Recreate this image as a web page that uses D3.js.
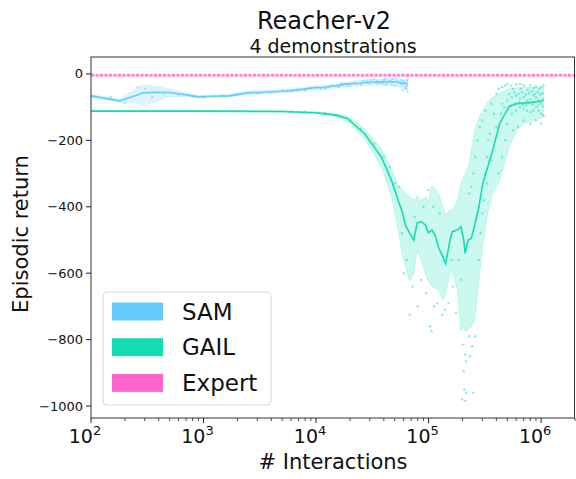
<!DOCTYPE html>
<html>
<head>
<meta charset="utf-8">
<script src="https://cdn.jsdelivr.net/npm/d3@7"></script>
<style>
  body { margin: 0; background: #fff; }
  svg { font-family: 'DejaVu Sans', sans-serif; }
</style>
</head>
<body>
<svg id="chart" width="576" height="479"></svg>
<script>
// --- data ---
const samX = [100, 180, 250, 290, 400, 500, 700, 900, 1200, 1700, 2450, 3500, 5000, 7000, 9300, 12000, 15000, 19000, 24000, 30000, 37000, 45000, 55000, 65000]
const samMean = [-66, -81, -65, -57, -55, -56, -63, -69, -67, -66, -57, -55, -52, -48, -42, -40, -36, -30, -28, -25, -24, -23, -26, -30]
const samHi = [-62, -76, -45, -33, -38, -45, -58, -65, -63, -62, -52, -50, -47, -43, -37, -34, -30, -24, -20, -17, -15, -14, -16, -18]
const samLo = [-70, -86, -85, -96, -80, -68, -68, -73, -71, -70, -62, -60, -57, -53, -47, -46, -42, -38, -36, -34, -33, -34, -40, -50]

const gailX = [100, 1000, 5000, 10000, 15000, 19000, 27000, 38000, 47000, 54000, 59000, 62000, 68000, 74000, 79000, 86000, 93000, 100000, 107000, 114000, 123000, 134000, 142000, 155000, 162000, 180000, 194000, 205000, 211000, 225000, 240000, 257000, 280000, 302000, 335000, 370000, 430000, 520000, 610000, 700000, 850000, 1050000]
const gailMean = [-112, -112, -113, -117, -124, -134, -180, -250, -322, -383, -420, -454, -480, -500, -449, -445, -454, -479, -470, -485, -525, -550, -571, -500, -475, -470, -460, -500, -540, -500, -495, -454, -400, -332, -280, -231, -148, -98, -90, -88, -85, -80]
const gailHi = [-110, -110, -111, -114, -120, -127, -165, -225, -285, -340, -350, -360, -370, -380, -367, -380, -370, -380, -337, -345, -360, -400, -424, -410, -412, -380, -330, -310, -300, -280, -230, -170, -130, -110, -85, -70, -57, -45, -42, -40, -40, -40]
const gailLo = [-114, -114, -115, -120, -128, -142, -195, -280, -370, -475, -553, -580, -625, -600, -530, -560, -600, -625, -640, -645, -650, -680, -660, -600, -595, -650, -775, -760, -775, -770, -760, -740, -620, -520, -420, -360, -320, -220, -170, -150, -140, -130]

const expertX = [100, 2000000]
const expertMean = [-4, -4]
const expertHi = [-1, -1]
const expertLo = [-7, -7]

const samPoints = [[150, -70], [200, -88], [260, -40], [300, -45], [350, -70], [450, -60], [600, -62], [800, -68], [1000, -72], [1500, -65], [2000, -60], [3000, -58], [4000, -55], [5000, -48], [6000, -52], [7000, -45], [8000, -50], [10000, -40], [12000, -45], [14000, -35], [16000, -40], [18000, -30], [20000, -35], [22000, -25], [25000, -32], [28000, -20], [30000, -30], [33000, -15], [36000, -28], [40000, -18], [44000, -25], [48000, -15], [52000, -20], [56000, -30], [60000, -22], [63000, -45], [65000, -54], [62000, -40], [58000, -35], [65000, -15], [50000, -35], [42000, -32],
  [26000, -22], [31000, -18], [35000, -20], [38000, -24], [41000, -14], [46000, -20], [51000, -12], [54000, -26], [57000, -18], [61000, -28], [64000, -36], [64000, -22], [59000, -48], [47000, -30], [39000, -30], [34000, -26], [29000, -27], [23000, -30], [19000, -38], [17000, -28], [13000, -38], [11000, -46], [9000, -44]]

const gailPoints = [[68000, -725], [72000, -640], [60000, -600], [64000, -560], [80000, -700], [86000, -620], [95000, -660], [103000, -760], [106000, -775], [112000, -700], [120000, -690], [132000, -725], [140000, -710], [150000, -690], [165000, -640], [175000, -720], [199000, -980], [203000, -815], [211000, -845], [215000, -865], [205000, -895], [208000, -950], [216000, -960], [212000, -985], [244000, -820], [234000, -850], [249000, -960], [260000, -790], [230000, -790],
  [280000, -560], [290000, -480], [300000, -420], [310000, -380], [320000, -300], [330000, -250], [340000, -200], [350000, -180], [260000, -250], [270000, -200], [285000, -160], [300000, -140], [320000, -110], [360000, -90], [250000, -300], [240000, -340], [230000, -360],
  [40000, -250], [50000, -330], [45000, -280], [55000, -340], [58000, -480], [33000, -210], [25000, -165], [20000, -140], [15000, -125], [12000, -118], [8000, -114], [6000, -113], [100000, -350], [110000, -400], [125000, -420], [90000, -400], [75000, -430], [160000, -560], [185000, -560], [195000, -620],
  [400000, -60], [420000, -45], [450000, -40], [480000, -35], [500000, -30], [540000, -35], [600000, -32], [650000, -30], [700000, -35], [800000, -35], [900000, -38], [1000000, -40], [1050000, -35], [450000, -90], [500000, -80], [550000, -70], [600000, -65], [650000, -75], [700000, -70], [750000, -80], [800000, -75], [850000, -65], [900000, -70], [950000, -80], [1000000, -90], [1050000, -75], [500000, -150], [550000, -120], [600000, -110], [650000, -100], [700000, -105], [750000, -110], [800000, -115], [850000, -110], [900000, -100], [950000, -110], [1000000, -120], [1050000, -125], [560000, -170], [620000, -160], [700000, -140], [800000, -150], [900000, -140], [1000000, -150], [480000, -200], [450000, -250], [420000, -300],
  [520000, -60], [580000, -55], [630000, -60], [680000, -55], [730000, -62], [780000, -58], [830000, -52], [880000, -60], [930000, -55], [980000, -62], [1030000, -58], [540000, -95], [590000, -88], [640000, -85], [690000, -92], [740000, -95], [790000, -88], [840000, -92], [890000, -85], [940000, -95], [990000, -85], [1040000, -98], [560000, -45], [660000, -45], [760000, -48], [860000, -42], [960000, -45], [380000, -120], [400000, -160], [360000, -260], [330000, -330], [440000, -120], [470000, -100]]

const yTicks = [0, -200, -400, -600, -800, -1000]
const xDecades = [2, 3, 4, 5, 6]
const legendLabels = ['SAM', 'GAIL', 'Expert']
const colors = ['#66ccff', '#14ddb4', '#ff66cc']

// --- layout ---
const MARGINS = { top: 57, right: 1, bottom: 61, left: 91 }
const WIDTH = 576
const HEIGHT = 479

const vis = d3.select('#chart')

const xScale = d3.scaleLog().domain([100, 2000000]).range([MARGINS.left, WIDTH - MARGINS.right])
const yScale = d3.scaleLinear().domain([-1036, 51]).range([HEIGHT - MARGINS.bottom, MARGINS.top])

vis.append('defs').append('clipPath')
  .attr('id', 'plot-clip')
  .append('rect')
  .attr('x', MARGINS.left)
  .attr('y', MARGINS.top)
  .attr('width', WIDTH - MARGINS.left - MARGINS.right)
  .attr('height', HEIGHT - MARGINS.top - MARGINS.bottom)

const plot = vis.append('g').attr('clip-path', 'url(#plot-clip)')

const areaGen = d3.area()
  .x(d => xScale(d.x))
  .y0(d => yScale(d.lo))
  .y1(d => yScale(d.hi))

const lineGen = d3.line()
  .x(d => xScale(d.x))
  .y(d => yScale(d.mean))

const toRows = (xs, mean, lo, hi) => xs.map((x, i) => ({ x, mean: mean[i], lo: lo[i], hi: hi[i] }))

const series = [
  { rows: toRows(samX, samMean, samLo, samHi), points: samPoints, color: colors[0] },
  { rows: toRows(gailX, gailMean, gailLo, gailHi), points: gailPoints, color: colors[1] }
]

series.forEach(s => {
  plot.append('path')
    .attr('d', areaGen(s.rows))
    .attr('fill', s.color)
    .attr('fill-opacity', 0.22)
    .attr('stroke', s.color)
    .attr('stroke-opacity', 0.3)
    .attr('stroke-width', 0.6)

  plot.append('g')
    .selectAll('circle')
    .data(s.points)
    .join('circle')
    .attr('cx', d => xScale(d[0]))
    .attr('cy', d => yScale(d[1]))
    .attr('r', 1.2)
    .attr('fill', s.color)
    .attr('fill-opacity', 0.5)

  plot.append('path')
    .attr('d', lineGen(s.rows))
    .attr('fill', 'none')
    .attr('stroke', s.color)
    .attr('stroke-width', 1.6)
})

// expert: flat dashed line
const expertRows = toRows(expertX, expertMean, expertLo, expertHi)
plot.append('path')
  .attr('d', areaGen(expertRows))
  .attr('fill', colors[2])
  .attr('fill-opacity', 0.2)

plot.append('path')
  .attr('d', lineGen(expertRows))
  .attr('fill', 'none')
  .attr('stroke', colors[2])
  .attr('stroke-opacity', 0.75)
  .attr('stroke-width', 3)
  .attr('stroke-dasharray', '3,1.5')

// --- axes ---
const minorTicks = []
xDecades.forEach(e => {
  for (let k = 2; k <= 9; k++) {
    const v = k * Math.pow(10, e)
    if (v <= 2000000) minorTicks.push(v)
  }
})

const xAxisG = vis.append('g').attr('transform', `translate(0, ${HEIGHT - MARGINS.bottom})`)

xAxisG.selectAll('.minor')
  .data(minorTicks)
  .join('line')
  .attr('class', 'minor')
  .attr('x1', d => xScale(d)).attr('x2', d => xScale(d))
  .attr('y1', 0).attr('y2', 3)
  .attr('stroke', '#222').attr('stroke-width', 0.8)

xAxisG.selectAll('.major')
  .data(xDecades)
  .join('line')
  .attr('class', 'major')
  .attr('x1', d => xScale(Math.pow(10, d))).attr('x2', d => xScale(Math.pow(10, d)))
  .attr('y1', 0).attr('y2', 5)
  .attr('stroke', '#222').attr('stroke-width', 1)

const xLabels = xAxisG.selectAll('.xlabel')
  .data(xDecades)
  .join('text')
  .attr('class', 'xlabel')
  .attr('x', d => xScale(Math.pow(10, d)) - 6)
  .attr('y', 25)
  .attr('text-anchor', 'middle')
  .attr('font-size', 19)
  .attr('fill', '#111')

xLabels.append('tspan').text('10')
xLabels.append('tspan')
  .attr('font-size', 13)
  .attr('dy', -8)
  .text(d => d)

const yAxisG = vis.append('g').attr('transform', `translate(${MARGINS.left}, 0)`)

yAxisG.selectAll('line')
  .data(yTicks)
  .join('line')
  .attr('x1', -5).attr('x2', 0)
  .attr('y1', d => yScale(d)).attr('y2', d => yScale(d))
  .attr('stroke', '#222')

yAxisG.selectAll('text')
  .data(yTicks)
  .join('text')
  .attr('x', -8)
  .attr('y', d => yScale(d))
  .attr('dy', '0.35em')
  .attr('text-anchor', 'end')
  .attr('font-size', 13)
  .attr('fill', '#111')
  .text(d => d3.format('d')(d))

// frame
vis.append('rect')
  .attr('x', MARGINS.left)
  .attr('y', MARGINS.top)
  .attr('width', WIDTH - MARGINS.left - MARGINS.right - 0.5)
  .attr('height', HEIGHT - MARGINS.top - MARGINS.bottom)
  .attr('fill', 'none')
  .attr('stroke', '#333')
  .attr('stroke-width', 1)

// --- titles ---
vis.append('text')
  .attr('x', 324)
  .attr('y', 29)
  .attr('text-anchor', 'middle')
  .attr('font-size', 24)
  .attr('fill', '#111')
  .text('Reacher-v2')

vis.append('text')
  .attr('x', 333)
  .attr('y', 53)
  .attr('text-anchor', 'middle')
  .attr('font-size', 19)
  .attr('fill', '#111')
  .text('4 demonstrations')

vis.append('text')
  .attr('x', 333)
  .attr('y', 469)
  .attr('text-anchor', 'middle')
  .attr('font-size', 21)
  .attr('fill', '#111')
  .text('# Interactions')

vis.append('text')
  .attr('transform', 'translate(28, 234) rotate(-90)')
  .attr('text-anchor', 'middle')
  .attr('font-size', 21)
  .attr('fill', '#111')
  .text('Episodic return')

// --- legend ---
const legend = vis.append('g').attr('transform', 'translate(103, 292)')

legend.append('rect')
  .attr('width', 168)
  .attr('height', 113)
  .attr('rx', 4)
  .attr('fill', '#fff')
  .attr('fill-opacity', 0.85)
  .attr('stroke', '#d6d6d6')

const entries = legend.selectAll('.entry')
  .data(legendLabels)
  .join('g')
  .attr('class', 'entry')
  .attr('transform', (d, i) => `translate(0, ${19.5 + i * 35.7})`)

entries.append('rect')
  .attr('x', 9)
  .attr('y', -9)
  .attr('width', 51)
  .attr('height', 18)
  .attr('fill', (d, i) => colors[i])

entries.append('text')
  .attr('x', 79)
  .attr('y', 0)
  .attr('dy', '0.36em')
  .attr('font-size', 23)
  .attr('fill', '#111')
  .text(d => d)
</script>
</body>
</html>
